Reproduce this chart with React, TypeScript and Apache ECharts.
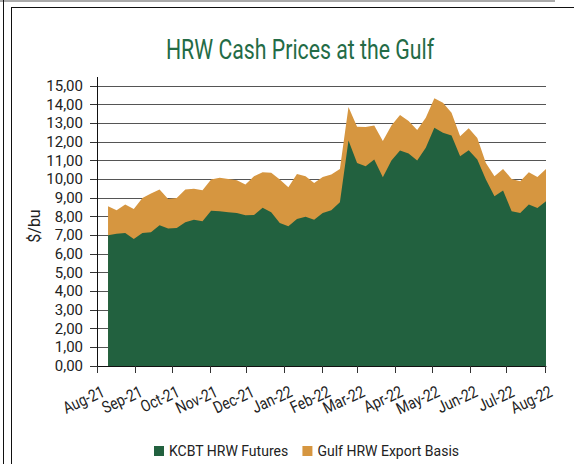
import React, { useEffect, useRef } from "react";
import * as echarts from "echarts";

const dates = [
  "2021-08-10", "2021-08-17", "2021-08-24", "2021-08-31",
  "2021-09-07", "2021-09-14", "2021-09-21", "2021-09-28",
  "2021-10-05", "2021-10-12", "2021-10-19", "2021-10-26",
  "2021-11-02", "2021-11-09", "2021-11-16", "2021-11-23", "2021-11-30",
  "2021-12-07", "2021-12-14", "2021-12-21", "2021-12-28",
  "2022-01-04", "2022-01-11", "2022-01-18", "2022-01-25",
  "2022-02-01", "2022-02-08", "2022-02-15", "2022-02-22",
  "2022-03-01", "2022-03-08", "2022-03-15", "2022-03-22", "2022-03-29",
  "2022-04-05", "2022-04-12", "2022-04-19", "2022-04-26",
  "2022-05-03", "2022-05-10", "2022-05-17", "2022-05-24", "2022-05-31",
  "2022-06-07", "2022-06-14", "2022-06-21", "2022-06-28",
  "2022-07-05", "2022-07-12", "2022-07-19", "2022-07-26",
  "2022-08-02",
];

const futures = [
  7.0, 7.09, 7.12, 6.8, 7.12, 7.16, 7.54, 7.37, 7.39, 7.7, 7.84, 7.75,
  8.32, 8.29, 8.23, 8.2, 8.07, 8.09, 8.48, 8.23, 7.66, 7.48, 7.88, 8.0,
  7.84, 8.2, 8.34, 8.77, 12.08, 10.88, 10.7, 11.06, 10.11, 11.01, 11.54,
  11.38, 11.01, 11.69, 12.76, 12.49, 12.35, 11.24, 11.56, 11.06, 9.99,
  9.09, 9.4, 8.29, 8.2, 8.65, 8.47, 8.82,
];

const basis = [
  1.56, 1.25, 1.53, 1.61, 1.88, 2.08, 1.91, 1.58, 1.61, 1.75, 1.65, 1.66,
  1.67, 1.79, 1.79, 1.75, 1.65, 2.08, 1.9, 2.12, 2.33, 2.1, 2.41, 2.17,
  1.97, 1.93, 1.92, 1.79, 1.79, 1.94, 2.1, 1.83, 1.94, 1.88, 1.9, 1.74,
  1.63, 1.61, 1.58, 1.61, 1.22, 1.07, 1.18, 1.16, 0.89, 1.08, 1.16, 1.73,
  1.7, 1.73, 1.66, 1.74,
];

const monthTicks = [
  "2021-08-01", "2021-09-01", "2021-10-01", "2021-11-01", "2021-12-01",
  "2022-01-01", "2022-02-01", "2022-03-01", "2022-04-01", "2022-05-01",
  "2022-06-01", "2022-07-01", "2022-08-01",
];
const monthLabels = [
  "Aug-21", "Sep-21", "Oct-21", "Nov-21", "Dec-21", "Jan-22", "Feb-22",
  "Mar-22", "Apr-22", "May-22", "Jun-22", "Jul-22", "Aug-22",
];

const axisStart = "2021-08-01";
const axisEnd = "2022-08-02";

const seriesNames = ["KCBT HRW Futures", "Gulf HRW Export Basis"];
const titleText = "HRW Cash Prices at the Gulf";
const yName = "$/bu";

function dayNum(s: string): number {
  const [y, m, d] = s.split("-").map(Number);
  const [y0, m0, d0] = axisStart.split("-").map(Number);
  return Math.round((Date.UTC(y, m - 1, d) - Date.UTC(y0, m0 - 1, d0)) / 86400000);
}

export default function App() {
  const ref = useRef<HTMLDivElement>(null);
  useEffect(() => {
    if (!ref.current) return;
    const chart = echarts.init(ref.current, null, { renderer: "svg" });
    const tickDays = monthTicks.map(dayNum);
    const font = "Roboto, 'Noto Sans', sans-serif";
    // basis is stacked on top of futures (drawn as the cumulative band)
    const stackedTop = futures.map((f, i) => +(f + basis[i]).toFixed(2));
    const baseGraphics: any[] = [
      { type: "line", shape: { x1: 0, y1: 1, x2: 555, y2: 1 }, style: { stroke: "#aaaaaa", lineWidth: 2 } },
      { type: "line", shape: { x1: 11, y1: 7.5, x2: 574, y2: 7.5 }, style: { stroke: "#111", lineWidth: 1 } },
      { type: "line", shape: { x1: 3.5, y1: 0, x2: 3.5, y2: 464 }, style: { stroke: "#111", lineWidth: 1 } },
      { type: "line", shape: { x1: 11.5, y1: 7, x2: 11.5, y2: 464 }, style: { stroke: "#111", lineWidth: 1 } },
      {
        type: "text",
        x: 300,
        y: 49,
        scaleX: 0.76,
        style: {
          text: titleText,
          fontFamily: font,
          fontSize: 28,
          fill: "#236b46",
          align: "center",
          verticalAlign: "middle",
        },
      },
    ];
    chart.setOption({
      animation: false,
      backgroundColor: "#ffffff",
      grid: { left: 97, right: 28, top: 86, bottom: 98, containLabel: false },
      legend: {
        data: seriesNames,
        left: 149,
        top: 439,
        icon: "rect",
        itemWidth: 10,
        itemHeight: 10,
        itemGap: 14,
        itemStyle: { borderWidth: 0 },
        textStyle: { fontFamily: font, fontSize: 14, color: "#222" },
      },
      graphic: baseGraphics,
      xAxis: {
        type: "value",
        min: 0,
        max: dayNum(axisEnd),
        axisLine: { show: true, lineStyle: { color: "#111", width: 1 } },
        axisTick: { show: true, customValues: tickDays, length: 7, lineStyle: { color: "#333" } },
        axisLabel: { show: false },
        splitLine: { show: false },
      },
      yAxis: {
        type: "value",
        min: 0,
        max: 15,
        interval: 1,
        name: yName,
        nameLocation: "middle",
        nameGap: 55,
        nameMoveOverlap: false,
        nameTextStyle: { fontFamily: font, fontSize: 16, color: "#222" },
        axisLine: { show: true, lineStyle: { color: "#111", width: 1 } },
        axisTick: { show: true, length: 7, lineStyle: { color: "#333" } },
        axisLabel: {
          formatter: (v: number) => v.toFixed(2).replace(".", ","),
          fontFamily: font,
          fontSize: 15,
          color: "#222",
          margin: 14,
        },
        splitLine: { show: true, lineStyle: { color: "#555", width: 1 } },
      },
      series: [
        {
          name: seriesNames[1],
          type: "line",
          symbol: "none",
          z: 2,
          lineStyle: { width: 0 },
          itemStyle: { color: "#d69640" },
          areaStyle: { color: "#d69640", opacity: 1 },
          data: dates.map((d, i) => [dayNum(d), stackedTop[i]]),
        },
        {
          name: seriesNames[0],
          type: "line",
          symbol: "none",
          z: 3,
          lineStyle: { width: 0 },
          itemStyle: { color: "#22613f" },
          areaStyle: { color: "#22613f", opacity: 1 },
          data: dates.map((d, i) => [dayNum(d), futures[i]]),
        },
      ],
    });
    // month labels of the x axis, placed at the axis's own tick positions
    const axisY = chart.convertToPixel({ yAxisIndex: 0 }, 0) as number;
    const topY = chart.convertToPixel({ yAxisIndex: 0 }, 15) as number;
    const axisX = chart.convertToPixel({ xAxisIndex: 0 }, 0) as number;
    const labelGraphics = tickDays.map((d, i) => ({
      type: "text",
      x: (chart.convertToPixel({ xAxisIndex: 0 }, d) as number) + 3,
      y: axisY + 17,
      rotation: (25 * Math.PI) / 180,
      scaleX: 0.84,
      style: {
        text: monthLabels[i],
        fontFamily: font,
        fontSize: 16.5,
        fill: "#222",
        align: "right",
        verticalAlign: "top",
      },
    }));
    const axisCap = {
      type: "line",
      shape: { x1: Math.round(axisX) + 0.5, y1: topY - 9, x2: Math.round(axisX) + 0.5, y2: topY },
      style: { stroke: "#111", lineWidth: 1 },
    };
    chart.setOption({ graphic: [...baseGraphics, ...labelGraphics, axisCap] });
    return () => chart.dispose();
  }, []);
  return (
    <div
      ref={ref}
      style={{ position: "fixed", left: 0, top: 0, width: 574, height: 464 }}
    />
  );
}
